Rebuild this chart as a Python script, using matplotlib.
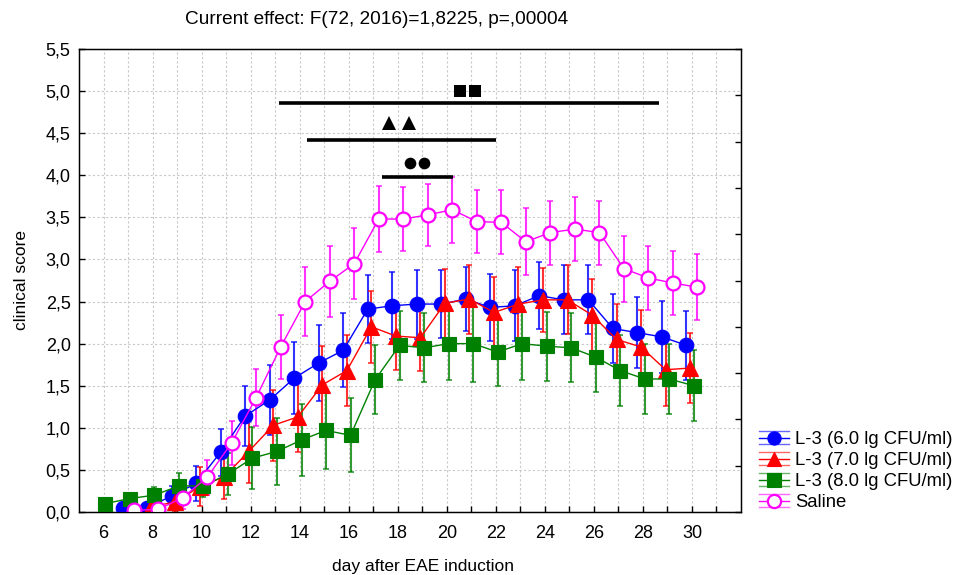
import numpy as np
import matplotlib
matplotlib.use('Agg')
import matplotlib.pyplot as plt
from matplotlib.lines import Line2D
from matplotlib.legend_handler import HandlerBase
from matplotlib.ticker import FuncFormatter, MultipleLocator

plt.rcParams['font.family'] = ['Liberation Sans', 'DejaVu Sans']
plt.rcParams['font.size'] = 12

# --- data (mean clinical score, +/- SE) ---
days_blue = list(range(7, 31))
blue = [0.05, 0.05, 0.19, 0.34, 0.71, 1.14, 1.33, 1.59, 1.77, 1.92, 2.41, 2.45,
        2.47, 2.47, 2.53, 2.43, 2.45, 2.57, 2.52, 2.52, 2.18, 2.13, 2.08, 1.98]
blue_se = [0.05, 0.06, 0.12, 0.21, 0.28, 0.36, 0.42, 0.43, 0.45, 0.44, 0.40, 0.40,
           0.41, 0.40, 0.38, 0.40, 0.42, 0.40, 0.41, 0.41, 0.41, 0.42, 0.43, 0.41]

days_red = list(range(8, 31))
red = [0.06, 0.12, 0.30, 0.42, 0.72, 1.03, 1.13, 1.51, 1.68, 2.20, 2.09, 2.07,
       2.48, 2.53, 2.37, 2.47, 2.52, 2.52, 2.34, 2.05, 1.96, 1.69, 1.71]
red_se = [0.06, 0.12, 0.23, 0.26, 0.38, 0.42, 0.42, 0.46, 0.42, 0.43, 0.40, 0.40,
          0.41, 0.41, 0.42, 0.44, 0.38, 0.41, 0.43, 0.42, 0.44, 0.43, 0.42]

days_green = list(range(6, 31))
green = [0.10, 0.16, 0.20, 0.31, 0.31, 0.45, 0.64, 0.72, 0.855, 0.97, 0.91, 1.57,
         1.98, 1.95, 2.00, 2.00, 1.90, 2.00, 1.97, 1.95, 1.84, 1.68, 1.58, 1.58, 1.50]
green_se = [0.0, 0.0, 0.10, 0.15, 0.13, 0.25, 0.37, 0.40, 0.43, 0.46, 0.44, 0.41,
            0.41, 0.41, 0.43, 0.45, 0.40, 0.43, 0.41, 0.41, 0.42, 0.42, 0.42, 0.42, 0.42]

days_sal = list(range(7, 31))
saline = [0.02, 0.03, 0.17, 0.41, 0.82, 1.36, 1.96, 2.50, 2.74, 2.95, 3.48, 3.48,
          3.53, 3.59, 3.45, 3.44, 3.21, 3.32, 3.36, 3.32, 2.89, 2.78, 2.72, 2.67]
saline_se = [0.0, 0.05, 0.14, 0.21, 0.26, 0.34, 0.38, 0.41, 0.42, 0.42, 0.39, 0.38,
             0.37, 0.39, 0.37, 0.38, 0.40, 0.38, 0.38, 0.38, 0.39, 0.38, 0.38, 0.39]

labels = ['L-3 (6.0 lg CFU/ml)', 'L-3 (7.0 lg CFU/ml)', 'L-3 (8.0 lg CFU/ml)', 'Saline']

# significance bars: start day, end day, bar level
sig_start = [17.35, 14.3, 13.15]
sig_end = [20.25, 22.0, 28.65]
sig_level = [3.98, 4.42, 4.86]
# symbol pairs above the bars: marker, x of each symbol, level
sig_marker = ['o', '^', 's']
sig_sym_x = [[18.49, 19.07], [17.64, 18.45], [20.55, 21.17]]
sig_sym_y = [4.15, 4.62, 5.0]

title = 'Current effect: F(72, 2016)=1,8225, p=,00004'

# --- plotting ---
fig = plt.figure(figsize=(9.7, 5.75), dpi=100)
ax = fig.add_axes([79/970, 1-512/575, (741-79)/970, (512-49)/575])

series = [
    (days_blue, blue, blue_se, '#0000ff', 'o', 10.5, '#0000ff', -0.225),
    (days_red, red, red_se, '#ff0000', '^', 11, '#ff0000', -0.075),
    (days_green, green, green_se, '#008000', 's', 10.5, '#008000', 0.075),
    (days_sal, saline, saline_se, '#ff00ff', 'o', 10, 'white', 0.225),
]

handles = []
for d, m, se, col, mk, ms, mfc, off in series:
    x = np.array(d) + off
    ax.errorbar(x, m, yerr=se, fmt='none', ecolor=col, elinewidth=1.5,
                capsize=2.2, capthick=1.2, alpha=0.8, zorder=2)
    ln, = ax.plot(x, m, color=col, lw=1.0, marker=mk, ms=ms, mfc=mfc,
                  mec=col, mew=1.6 if mfc == 'white' else 0.8, zorder=3)
    handles.append(ln)

for s, e, lev in zip(sig_start, sig_end, sig_level):
    ax.plot([s, e], [lev, lev], color='black', lw=2.6, solid_capstyle='butt', zorder=4)
for mk, xs, yy in zip(sig_marker, sig_sym_x, sig_sym_y):
    ax.plot(xs, [yy] * len(xs), ls='none', marker=mk, color='black',
            ms=10 if mk == '^' else 8.4, mew=0, zorder=4)

ax.set_xlim(5, 32)
ax.set_ylim(0, 5.5)
ax.set_xticks(range(6, 32))
ax.set_xticklabels([str(d) if (d % 2 == 0 and d <= 30) else '' for d in range(6, 32)])
ax.yaxis.set_major_locator(MultipleLocator(0.5))
ax.yaxis.set_major_formatter(FuncFormatter(lambda v, p: f'{v:.1f}'.replace('.', ',')))
ax.tick_params(direction='in', length=4, width=1, labelsize=13)
ax.tick_params(axis='x', pad=9)
ax.tick_params(axis='y', pad=6)
ax.grid(True, color='#c8c8c8', linestyle=(0, (2, 2)), lw=0.8)
ax.set_axisbelow(True)
for sp in ax.spines.values():
    sp.set_linewidth(1.0)

axr = ax.twinx()
axr.set_ylim(0, 5)
axr.yaxis.set_major_locator(MultipleLocator(0.5))
axr.tick_params(direction='in', length=4, width=1, labelright=False)

ax.set_xlabel('day after EAE induction', fontsize=12.5)
ax.set_ylabel('clinical score', fontsize=12.5)
ax.xaxis.set_label_coords(0.52, -(559 - 512) / 463)
ax.yaxis.set_label_coords(-(79 - 29) / 662, 0.5)
fig.text(377/970, 1-20/575, title, ha='center', va='center', fontsize=13.7)


class ErrHandler(HandlerBase):
    def create_artists(self, legend, orig, xd, yd, width, height, fontsize, trans):
        col = orig.get_color()
        ym = height / 2 - yd
        arts = []
        for dy, a in ((-height * 0.5, 0.6), (0, 1.0), (height * 0.5, 0.6)):
            arts.append(Line2D([-xd, width - xd], [ym + dy, ym + dy], color=col,
                               lw=1.0, alpha=a, transform=trans))
        arts.append(Line2D([width / 2 - xd], [ym], marker=orig.get_marker(),
                           ms=9.5, mfc=orig.get_markerfacecolor(), mec=col,
                           mew=orig.get_markeredgewidth(), ls='none', transform=trans))
        return arts


fig.legend(handles, labels, loc='upper left', bbox_to_anchor=(750/970, 1-422/575),
           frameon=False, handler_map={Line2D: ErrHandler()}, handlelength=1.6,
           handletextpad=0.35, labelspacing=0.22, borderpad=0, fontsize=13.3)

fig.savefig('out.png', dpi=100)
